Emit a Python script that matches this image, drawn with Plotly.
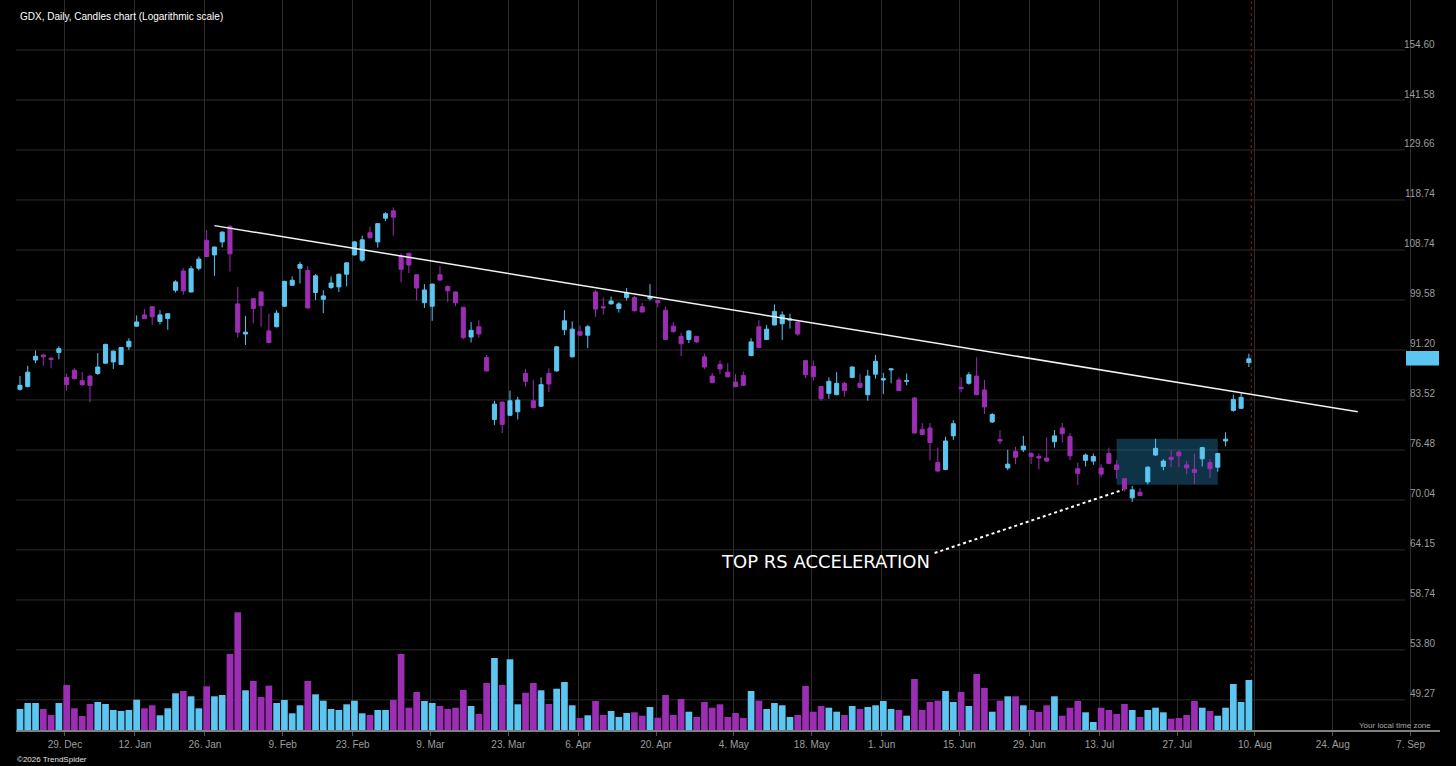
import math
import pandas as pd
import plotly.graph_objects as go

TITLE = "GDX, Daily, Candles chart (Logarithmic scale)"

# --- trading calendar -------------------------------------------------------
FIRST_SESSION = "2025-12-18"
LAST_CALENDAR_DAY = "2026-09-30"
HOLIDAYS = ["2025-12-25", "2026-01-01", "2026-01-19", "2026-02-16", "2026-04-03",
            "2026-05-25", "2026-06-19", "2026-07-03", "2026-09-07"]

# --- daily candles ----------------------------------------------------------
OPEN = [85.1, 85.5, 89.6, 90.4, 89.9, 90.8, 86.9, 88.0, 86.4, 87.1,
        87.5, 89.1, 89.3, 88.9, 91.7, 95.1, 97.0, 98.4, 95.9, 96.4,
        101.3, 104.8, 101.0, 105.3, 110.6, 107.8, 110.3, 113.3, 98.9, 93.8,
        99.8, 101.0, 94.3, 95.0, 98.5, 102.2, 105.3, 104.9, 100.9, 99.7,
        101.8, 101.9, 104.2, 107.8, 106.8, 112.1, 110.3, 115.0, 116.5, 107.6,
        108.1, 104.1, 99.1, 98.5, 104.1, 102.0, 101.0, 98.3, 93.3, 95.0,
        90.0, 80.7, 83.2, 81.3, 81.8, 87.5, 83.4, 82.6, 87.5, 87.9,
        94.5, 90.1, 94.2, 93.6, 101.0, 98.4, 98.9, 98.1, 100.0, 100.0,
        98.4, 99.8, 99.5, 97.8, 95.1, 93.4, 92.9, 93.4, 90.1, 87.1,
        88.9, 87.7, 86.2, 87.2, 90.3, 95.0, 92.9, 95.3, 95.5, 96.1,
        95.8, 89.5, 88.6, 85.5, 84.5, 84.3, 86.0, 86.9, 86.0, 84.3,
        87.4, 86.5, 88.05, 86.5, 86.3, 83.8, 79.3, 79.5, 74.8, 73.9,
        78.4, 85.4, 86.0, 87.1, 85.0, 80.35, 77.9, 74.1, 76.3, 76.5,
        76.0, 75.6, 75.4, 77.6, 79.5, 78.3, 74.0, 75.1, 75.0, 74.1,
        76.0, 74.5, 72.7, 70.3, 71.0, 72.3, 75.8, 74.3, 75.5, 76.2,
        74.5, 73.9, 75.3, 74.8, 74.2, 77.7, 82.0, 82.3, 89.2]
HIGH = [87.1, 88.7, 91.1, 90.5, 90.0, 91.8, 87.5, 88.3, 87.7, 87.2,
        90.7, 92.2, 91.1, 91.7, 93.1, 96.9, 98.0, 98.5, 97.8, 97.3,
        103.1, 105.3, 105.7, 107.5, 112.6, 109.4, 112.4, 113.6, 101.9, 96.8,
        99.9, 101.1, 97.2, 97.8, 103.0, 103.8, 106.5, 105.7, 104.2, 101.3,
        103.8, 104.3, 106.4, 110.5, 111.5, 113.3, 114.0, 116.2, 117.2, 108.1,
        108.2, 104.2, 102.4, 102.5, 105.7, 102.1, 101.1, 98.4, 95.8, 96.1,
        90.4, 83.4, 83.3, 84.9, 84.0, 88.2, 86.5, 86.9, 88.3, 91.8,
        97.8, 95.9, 95.2, 95.3, 101.35, 100.0, 100.2, 99.2, 101.7, 100.3,
        99.1, 102.4, 99.6, 98.4, 95.8, 94.0, 94.4, 93.5, 90.6, 87.6,
        89.5, 89.1, 87.4, 87.8, 93.1, 96.1, 95.3, 98.8, 97.6, 97.2,
        95.9, 89.6, 89.5, 85.6, 86.9, 87.7, 86.2, 88.6, 87.4, 88.05,
        90.4, 87.6, 88.3, 86.9, 87.5, 83.9, 80.2, 80.2, 76.8, 78.3,
        80.6, 86.9, 87.7, 90.0, 86.5, 81.6, 79.2, 76.5, 76.9, 78.4,
        76.2, 76.0, 78.2, 79.2, 80.2, 78.8, 74.8, 76.0, 76.0, 74.6,
        76.8, 75.15, 72.8, 71.8, 71.5, 74.3, 78.0, 75.25, 76.5, 76.5,
        75.05, 75.95, 76.9, 75.25, 76.1, 78.9, 84.3, 84.5, 90.6]
LOW = [84.9, 85.4, 89.1, 88.7, 88.3, 89.7, 84.9, 86.6, 85.6, 83.2,
       87.3, 89.0, 88.2, 88.8, 91.2, 95.0, 96.3, 95.3, 95.4, 94.5,
       100.9, 100.5, 100.9, 104.9, 107.4, 103.9, 109.2, 104.7, 93.2, 92.0,
       95.6, 95.0, 92.3, 94.9, 98.4, 102.1, 102.5, 98.1, 99.6, 97.3,
       101.5, 101.0, 102.0, 107.7, 106.5, 111.0, 109.2, 114.4, 111.5, 102.7,
       104.4, 99.5, 98.2, 96.0, 103.0, 99.2, 98.5, 92.9, 92.4, 93.2,
       87.8, 79.9, 78.8, 81.2, 80.7, 85.5, 82.3, 82.5, 84.7, 87.8,
       93.6, 90.0, 93.5, 91.5, 96.7, 97.0, 98.8, 97.4, 99.5, 97.6,
       97.4, 99.5, 98.3, 92.8, 94.0, 90.2, 92.3, 92.3, 88.2, 86.0,
       87.4, 86.9, 85.4, 85.6, 90.2, 91.5, 92.8, 95.2, 92.8, 94.7,
       93.5, 86.8, 86.4, 83.4, 83.7, 84.2, 84.0, 86.8, 85.3, 83.4,
       86.7, 84.4, 86.0, 84.8, 85.7, 78.7, 78.5, 75.1, 73.6, 73.8,
       77.85, 84.7, 85.8, 84.2, 81.5, 80.2, 77.3, 73.8, 74.6, 76.2,
       74.6, 73.9, 74.9, 76.8, 77.5, 75.15, 71.9, 74.3, 74.5, 72.9,
       74.6, 72.7, 71.1, 69.8, 70.5, 72.0, 75.7, 73.8, 74.2, 74.2,
       73.3, 72.0, 74.3, 72.8, 73.6, 77.0, 81.8, 82.2, 88.5]
CLOSE = [85.7, 87.7, 90.2, 90.1, 89.7, 91.4, 85.8, 86.7, 85.8, 85.7,
         88.5, 92.1, 91.0, 91.6, 92.6, 95.8, 96.4, 96.7, 97.0, 97.2,
         102.8, 101.2, 105.2, 107.0, 107.5, 109.3, 112.2, 108.0, 94.1, 94.1,
         98.1, 98.6, 92.4, 97.3, 102.9, 103.1, 106.0, 98.2, 103.9, 100.3,
         102.6, 104.2, 106.3, 110.3, 110.7, 111.1, 113.9, 115.9, 115.2, 105.1,
         105.9, 101.7, 101.35, 102.4, 103.15, 101.2, 99.1, 93.2, 94.4, 93.8,
         87.9, 82.9, 80.0, 83.4, 83.5, 86.3, 82.4, 85.8, 85.9, 91.7,
         96.0, 94.6, 93.6, 95.0, 98.0, 98.2, 99.4, 98.9, 100.8, 97.7,
         97.5, 100.2, 99.1, 92.9, 94.2, 92.2, 94.3, 92.5, 88.5, 86.1,
         88.2, 87.0, 85.5, 85.7, 92.5, 91.6, 94.6, 97.6, 97.0, 96.3,
         93.8, 87.3, 87.0, 83.7, 86.3, 86.0, 84.9, 88.5, 85.4, 87.1,
         89.4, 86.7, 88.2, 84.9, 86.4, 78.8, 78.6, 77.5, 73.7, 77.7,
         80.1, 85.2, 87.3, 84.3, 82.5, 81.4, 77.7, 74.6, 75.5, 77.0,
         75.6, 75.4, 75.0, 78.4, 78.7, 75.7, 73.4, 75.8, 75.6, 73.3,
         74.7, 73.9, 71.4, 71.3, 70.6, 74.2, 76.7, 75.0, 75.2, 75.7,
         74.1, 73.5, 76.8, 74.0, 76.0, 77.95, 83.6, 83.9, 89.8]
VOLUME_M = [21, 27, 27, 21, 15, 27, 45, 21.7, 14, 26,
            28, 26, 20, 19, 20, 30.3, 21.7, 24.7, 14.7, 21.7,
            36.7, 39, 33.7, 21.7, 43.7, 33.7, 35, 76, 117.7, 39.7,
            49, 33, 44.3, 27, 30, 16.7, 24.7, 49, 35.7, 29.3,
            21, 20, 25.7, 29.3, 16.7, 15, 20, 20, 30, 76,
            22.3, 38, 29, 27, 24, 21, 22.3, 40, 24, 16,
            47, 72, 45, 70.7, 25.7, 37.3, 47, 39.7, 26, 41.3,
            48, 24.7, 12, 14.7, 29, 15, 19, 13, 17, 17.7,
            14.3, 23, 12.3, 35, 15, 31, 18.3, 13, 28, 22.3,
            25.7, 13, 17, 12, 39, 29.3, 21, 27, 24.7, 13,
            15, 44, 18.3, 24, 22.3, 18.3, 15, 24, 21, 23,
            24.7, 29, 21, 20, 14.3, 51, 20, 28, 29.3, 39,
            28, 38, 24, 56, 42, 18.3, 29.3, 33.7, 33.7, 24.7,
            20, 18, 24.7, 33.7, 14.3, 22.3, 29, 17.7, 8, 22.3,
            20, 16, 26, 20, 13, 20, 22.3, 17.7, 11.3, 12,
            15, 29, 22.3, 19, 14.3, 22.3, 46, 28, 50]

# --- axis labels --------------------------------------------------------------
PRICE_TICKS = [154.60, 141.58, 129.66, 118.74, 108.74, 99.58, 91.20,
               83.52, 76.48, 70.04, 64.15, 58.74, 53.80, 49.27]
DATE_TICKS = ["2025-12-29", "2026-01-12", "2026-01-26", "2026-02-09", "2026-02-23",
              "2026-03-09", "2026-03-23", "2026-04-06", "2026-04-20", "2026-05-04",
              "2026-05-18", "2026-06-01", "2026-06-15", "2026-06-29", "2026-07-13",
              "2026-07-27", "2026-08-10", "2026-08-24", "2026-09-07"]
DATE_TICK_TEXT = ["29. Dec", "12. Jan", "26. Jan", "9. Feb", "23. Feb", "9. Mar",
                  "23. Mar", "6. Apr", "20. Apr", "4. May", "18. May", "1. Jun",
                  "15. Jun", "29. Jun", "13. Jul", "27. Jul", "10. Aug", "24. Aug",
                  "7. Sep"]

# --- drawings on the chart ---------------------------------------------------
TREND_START = ("2026-01-27", 113.5)
TREND_END = ("2026-08-27", 81.8)
BOX_DATES = ("2026-07-15", "2026-08-03")
BOX_PRICES = (71.95, 78.0)
CALLOUT_TEXT = "TOP RS ACCELERATION"

# --- style ---------------------------------------------------------------------
UP = "#5cc5f0"
DOWN = "#9b2eb3"
GRID = "#2c2c2c"
LABEL_FAMILY = "Liberation Sans, Arial, sans-serif"
TICK_FONT = dict(family=LABEL_FAMILY, size=10, color="#9d9d9d")

W, H = 1456, 766
M_L, M_R, M_T, M_B = 16, 16, 0, 36
PX_PER_DAY = 7.778
X_LEFT = -0.51
Y_RANGE = [1.66956, 2.22742]   # log10 of the price range shown

cal = pd.offsets.CustomBusinessDay(holidays=HOLIDAYS)
sessions = pd.date_range(FIRST_SESSION, LAST_CALENDAR_DAY, freq=cal)
n = len(CLOSE)
xs = list(range(n))


def sess(d):
    return int(sessions.searchsorted(pd.Timestamp(d)))


tick_pos = [sess(d) - 0.22 for d in DATE_TICKS]
vol_colors = [UP if c >= o else DOWN for o, c in zip(OPEN, CLOSE)]

fig = go.Figure()
fig.add_trace(go.Bar(
    x=xs, y=VOLUME_M, yaxis="y2",
    marker=dict(color=vol_colors, line=dict(width=0)),
    hoverinfo="skip",
))
fig.add_trace(go.Candlestick(
    x=xs, open=OPEN, high=HIGH, low=LOW, close=CLOSE,
    increasing=dict(line=dict(color=UP, width=1), fillcolor=UP),
    decreasing=dict(line=dict(color=DOWN, width=1), fillcolor=DOWN),
    whiskerwidth=0,
))

plot_w = W - M_L - M_R
plot_h = H - M_T - M_B
x_right = X_LEFT + plot_w / PX_PER_DAY
label_x = (1437 - M_L) / plot_w

shapes = []
# horizontal grid stops short of the price labels
for p in PRICE_TICKS:
    shapes.append(dict(type="line", xref="paper", yref="y", x0=0, x1=0.9754,
                       y0=p, y1=p, line=dict(color=GRID, width=1), layer="below"))

# consolidation box
shapes.append(dict(type="rect", xref="x", yref="y",
                   x0=sess(BOX_DATES[0]), x1=sess(BOX_DATES[1]),
                   y0=BOX_PRICES[0], y1=BOX_PRICES[1],
                   fillcolor="rgba(38,140,195,0.36)", line=dict(width=0), layer="below"))

# resistance trendline
shapes.append(dict(type="line", xref="x", yref="y",
                   x0=sess(TREND_START[0]), y0=TREND_START[1],
                   x1=sess(TREND_END[0]), y1=TREND_END[1],
                   line=dict(color="#f2f2f2", width=1.5)))

# callout leader
shapes.append(dict(type="line", xref="x", yref="y",
                   x0=117.6, y0=63.8, x1=141.8, y1=71.3,
                   line=dict(color="white", width=2, dash="dot")))

# "now" marker
shapes.append(dict(type="line", xref="x", yref="paper", x0=n - 0.7, x1=n - 0.7,
                   y0=0, y1=1, line=dict(color="#7a2323", width=1, dash="dot"),
                   layer="below"))

# last price tag
last = CLOSE[-1]
shapes.append(dict(type="rect", xref="paper", yref="y",
                   x0=(1406 - M_L) / plot_w, x1=(1439 - M_L) / plot_w,
                   y0=last * 0.988, y1=last * 1.0135,
                   fillcolor=UP, line=dict(width=0), layer="above"))

annotations = [
    dict(text=TITLE, xref="paper", yref="paper", x=(18 - M_L) / plot_w, y=1 - 16 / plot_h,
         xanchor="left", yanchor="middle", showarrow=False,
         font=dict(family=LABEL_FAMILY, size=10, color="white")),
    dict(text=CALLOUT_TEXT, xref="x", yref="y", x=117.2, y=math.log10(62.9),
         xanchor="right", yanchor="middle", showarrow=False,
         font=dict(family="DejaVu Sans, sans-serif", size=18, color="white")),
    dict(text="Your local time zone", xref="paper", yref="paper",
         x=(1433 - M_L) / plot_w, y=5 / plot_h, xanchor="right", yanchor="middle",
         showarrow=False, font=dict(family=LABEL_FAMILY, size=8, color="#a8a8a8")),
    dict(text="©2026 TrendSpider", xref="paper", yref="paper",
         x=(15 - M_L) / plot_w, y=-29 / plot_h, xanchor="left", yanchor="middle",
         showarrow=False, font=dict(family=LABEL_FAMILY, size=8, color="#e0e0e0")),
]
# price scale labels sit just above their grid lines, inside the plot
for p in PRICE_TICKS:
    annotations.append(dict(text=f"{p:.2f}", xref="paper", yref="y", x=label_x,
                            y=math.log10(p), yshift=6, xanchor="right",
                            yanchor="middle", showarrow=False, font=TICK_FONT))

fig.update_layout(
    width=W, height=H,
    margin=dict(l=M_L, r=M_R, t=M_T, b=M_B),
    paper_bgcolor="black", plot_bgcolor="black",
    showlegend=False,
    bargap=0.14,
    boxgap=0.25,
    shapes=shapes,
    annotations=annotations,
    xaxis=dict(
        range=[X_LEFT, x_right], rangeslider=dict(visible=False),
        tickmode="array", tickvals=tick_pos, ticktext=DATE_TICK_TEXT,
        showgrid=True, gridcolor=GRID, gridwidth=1, zeroline=False,
        showline=True, linecolor="#808080", linewidth=1.5,
        ticks="outside", ticklen=4, tickcolor="#555555",
        tickfont=TICK_FONT,
    ),
    yaxis=dict(
        type="log", range=Y_RANGE, side="right",
        showticklabels=False, ticks="",
        showgrid=False, zeroline=False, showline=False,
    ),
    yaxis2=dict(overlaying="y", range=[0, plot_h], visible=False, showgrid=False,
                zeroline=False),
)

# page without the default body margin so the chart fills the window exactly
fig.write_html("out.html", config=dict(displayModeBar=False),
               post_script="document.body.style.margin='0';"
                           "document.body.style.background='black';")
